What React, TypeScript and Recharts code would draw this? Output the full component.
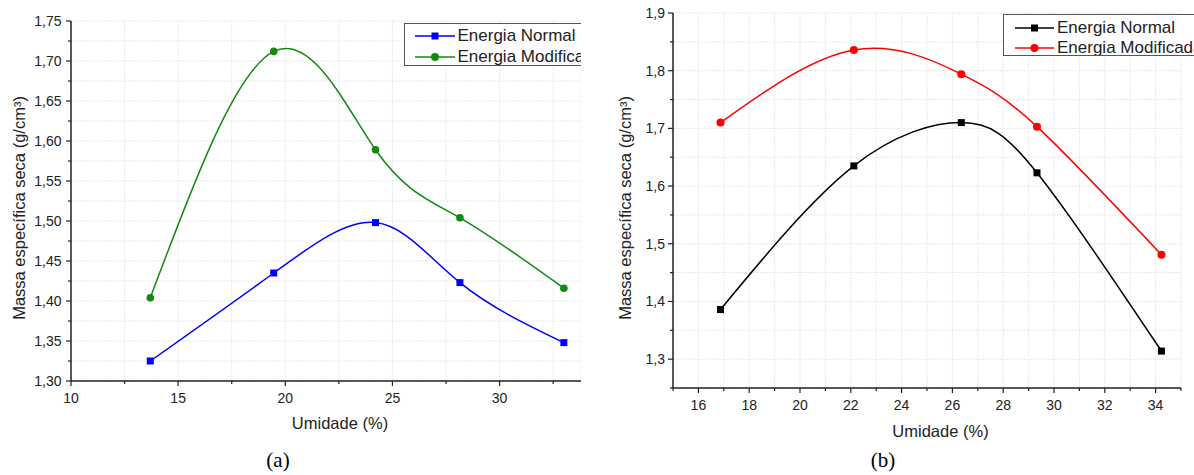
import React from 'react';
import { LineChart, Line, XAxis, YAxis, CartesianGrid, Label } from 'recharts';

// ---- data ----
const umidadeA = [13.7, 19.46, 24.21, 28.15, 33.0];
const normalA = [1.325, 1.435, 1.498, 1.423, 1.348];
const modificadaA = [1.404, 1.712, 1.589, 1.504, 1.416];

const umidadeB = [16.87, 22.12, 26.35, 29.33, 34.23];
const normalB = [1.386, 1.635, 1.71, 1.623, 1.314];
const modificadaB = [1.71, 1.836, 1.794, 1.703, 1.481];

const seriesNames = ['Energia Normal', 'Energia Modificada'];
const xTitle = 'Umidade (%)';
const yTitle = 'Massa específica seca (g/cm³)';
const panelLabels = ['(a)', '(b)'];

// ---- ticks ----
const xMajorA = [10, 15, 20, 25, 30];
const xMinorA = [12.5, 17.5, 22.5, 27.5, 32.5];
const yMajorA = [1.3, 1.35, 1.4, 1.45, 1.5, 1.55, 1.6, 1.65, 1.7, 1.75];
const yMinorA = [1.325, 1.375, 1.425, 1.475, 1.525, 1.575, 1.625, 1.675, 1.725];
const xDomainA = [10, 33.8];
const yDomainA = [1.3, 1.75];

const xMajorB = [16, 18, 20, 22, 24, 26, 28, 30, 32, 34];
const xMinorB = [15, 17, 19, 21, 23, 25, 27, 29, 31, 33, 35];
const yMajorB = [1.3, 1.4, 1.5, 1.6, 1.7, 1.8, 1.9];
const yMinorB = [1.25, 1.35, 1.45, 1.55, 1.65, 1.75, 1.85];
const xDomainB = [15, 35];
const yDomainB = [1.25, 1.9];

const rowsA = umidadeA.map((u, i) => ({ u, normal: normalA[i], mod: modificadaA[i] }));
const rowsB = umidadeB.map((u, i) => ({ u, normal: normalB[i], mod: modificadaB[i] }));

const FONT = "'Liberation Sans', Arial, sans-serif";
const AXIS = '#222';
const TEXT = '#222';
const GREEN = '#128a12';
const BLUE = '#0000ff';
const RED = '#ff0000';
const BLACK = '#000000';

const sortNum = (a: number[]) => [...a].sort((p, q) => p - q);
const isIn = (arr: number[], v: number) => arr.some((m) => Math.abs(m - v) < 1e-9);
const fmt = (v: number, d: number) => v.toFixed(d).replace('.', ',');

function makeXTick(majors: number[], decimals: number) {
  return (props: any) => {
    const { x, y, payload, index } = props;
    const v = payload.value;
    const major = isIn(majors, v);
    return (
      <g key={`xt-${index}`}>
        <line x1={x} x2={x} y1={y} y2={y + (major ? 5 : 3)} stroke={AXIS} strokeWidth={1.2} />
        {major && (
          <text x={x} y={y + 22} textAnchor="middle" fontSize={14} fontFamily={FONT} fill={TEXT}>
            {fmt(v, decimals)}
          </text>
        )}
      </g>
    );
  };
}

function makeYTick(majors: number[], decimals: number, gap: number) {
  return (props: any) => {
    const { x, y, payload, index } = props;
    const v = payload.value;
    const major = isIn(majors, v);
    return (
      <g key={`yt-${index}`}>
        <line x1={x} x2={x - (major ? 5 : 3)} y1={y} y2={y} stroke={AXIS} strokeWidth={1.2} />
        {major && (
          <text x={x - gap} y={y + 5} textAnchor="end" fontSize={14} fontFamily={FONT} fill={TEXT}>
            {fmt(v, decimals)}
          </text>
        )}
      </g>
    );
  };
}

const squareDot = (color: string, size: number) => (p: any) => (
  <rect key={`s-${p.index}`} x={p.cx - size / 2} y={p.cy - size / 2} width={size} height={size} fill={color} />
);
const circleDot = (color: string, r: number) => (p: any) => (
  <circle key={`c-${p.index}`} cx={p.cx} cy={p.cy} r={r} fill={color} />
);

const xTitleContent = (dx: number, dy: number) => (props: any) => {
  const vb = props.viewBox;
  return (
    <text x={vb.x + vb.width / 2 + dx} y={vb.y + dy} textAnchor="middle" dominantBaseline="central" fontSize={16.5} fontFamily={FONT} fill={TEXT}>
      {xTitle}
    </text>
  );
};

const yTitleContent = (cxOff: number, dy: number) => (props: any) => {
  const vb = props.viewBox;
  const cx = vb.x + cxOff;
  const cy = vb.y + vb.height / 2 + dy;
  return (
    <text x={cx} y={cy} transform={`rotate(-90 ${cx} ${cy})`} textAnchor="middle" dominantBaseline="central" fontSize={16.5} fontFamily={FONT} fill={TEXT}>
      {yTitle}
    </text>
  );
};

type LegendItem = { name: string; color: string; shape: 'square' | 'circle' };

function LegendBox(props: { left: number; top: number; width: number; height: number; rowTop: number; rowGap: number; padLeft: number; lineW: number; items: LegendItem[] }) {
  const { left, top, width, height, rowTop, rowGap, padLeft, lineW, items } = props;
  return (
    <div style={{ position: 'absolute', left, top, width, height, border: '1px solid #555', borderRight: 'none', boxSizing: 'border-box', overflow: 'hidden', background: '#fff' }}>
      {items.map((it, i) => (
        <div key={i} style={{ position: 'absolute', left: padLeft, top: rowTop + i * rowGap, height: 20, display: 'flex', alignItems: 'center', whiteSpace: 'nowrap' }}>
          <svg width={lineW} height={20} style={{ display: 'block' }}>
            <line x1={0} x2={lineW} y1={10} y2={10} stroke={it.color} strokeWidth={1.6} />
            {it.shape === 'square' ? (
              <rect x={lineW / 2 - 3.5} y={6.5} width={7} height={7} fill={it.color} />
            ) : (
              <circle cx={lineW / 2} cy={10} r={4} fill={it.color} />
            )}
          </svg>
          <span style={{ marginLeft: 3, fontFamily: FONT, fontSize: 17, color: TEXT, lineHeight: '20px' }}>{it.name}</span>
        </div>
      ))}
    </div>
  );
}

export default function App() {
  return (
    <div style={{ position: 'absolute', left: 0, top: 0, width: 1194, height: 475, background: '#fff', overflow: 'hidden' }}>
      {/* Panel (a) */}
      <div style={{ position: 'absolute', left: 0, top: 0, width: 581, height: 475, overflow: 'hidden' }}>
        <LineChart width={600} height={475} data={rowsA} margin={{ top: 21, right: 19, bottom: 64, left: 0 }}>
          <CartesianGrid stroke="#e8e8e8" strokeDasharray="2 1" />
          <XAxis
            dataKey="u"
            type="number"
            domain={xDomainA}
            ticks={sortNum([...xMajorA, ...xMinorA])}
            interval={0}
            allowDataOverflow
            tickSize={0}
            tickMargin={0}
            tickLine={false}
            tick={makeXTick(xMajorA, 0)}
            axisLine={{ stroke: AXIS, strokeWidth: 1.5 }}
            height={30}
          >
            <Label content={xTitleContent(14, 42)} />
          </XAxis>
          <YAxis
            type="number"
            domain={yDomainA}
            ticks={sortNum([...yMajorA, ...yMinorA])}
            interval={0}
            allowDataOverflow
            tickSize={0}
            tickMargin={0}
            tickLine={false}
            tick={makeYTick(yMajorA, 2, 9.5)}
            axisLine={{ stroke: AXIS, strokeWidth: 1.5 }}
            width={71}
          >
            <Label content={yTitleContent(19, 7)} />
          </YAxis>
          <Line type="natural" dataKey="normal" name={seriesNames[0]} stroke={BLUE} strokeWidth={1.5} dot={squareDot(BLUE, 7)} isAnimationActive={false} />
          <Line type="natural" dataKey="mod" name={seriesNames[1]} stroke={GREEN} strokeWidth={1.5} dot={circleDot(GREEN, 3.8)} isAnimationActive={false} />
        </LineChart>
        <LegendBox
          left={403.5}
          top={22.5}
          width={178}
          height={43}
          rowTop={2.7}
          rowGap={21}
          padLeft={10}
          lineW={40}
          items={[
            { name: seriesNames[0], color: BLUE, shape: 'square' },
            { name: seriesNames[1], color: GREEN, shape: 'circle' },
          ]}
        />
      </div>

      {/* Panel (b) */}
      <div style={{ position: 'absolute', left: 590, top: 0, width: 604, height: 475, overflow: 'hidden' }}>
        <LineChart width={604} height={475} data={rowsB} margin={{ top: 13, right: 13, bottom: 57, left: 0 }}>
          <CartesianGrid stroke="#e8e8e8" strokeDasharray="2 1" />
          <XAxis
            dataKey="u"
            type="number"
            domain={xDomainB}
            ticks={sortNum([...xMajorB, ...xMinorB])}
            interval={0}
            allowDataOverflow
            tickSize={0}
            tickMargin={0}
            tickLine={false}
            tick={makeXTick(xMajorB, 0)}
            axisLine={{ stroke: AXIS, strokeWidth: 1.5 }}
            height={30}
          >
            <Label content={xTitleContent(13.5, 43)} />
          </XAxis>
          <YAxis
            type="number"
            domain={yDomainB}
            ticks={sortNum([...yMajorB, ...yMinorB])}
            interval={0}
            allowDataOverflow
            tickSize={0}
            tickMargin={0}
            tickLine={false}
            tick={makeYTick(yMajorB, 1, 8)}
            axisLine={{ stroke: AXIS, strokeWidth: 1.5 }}
            width={83}
          >
            <Label content={yTitleContent(35, 7.5)} />
          </YAxis>
          <Line type="natural" dataKey="normal" name={seriesNames[0]} stroke={BLACK} strokeWidth={1.5} dot={squareDot(BLACK, 7)} isAnimationActive={false} />
          <Line type="natural" dataKey="mod" name={seriesNames[1]} stroke={RED} strokeWidth={1.5} dot={circleDot(RED, 4)} isAnimationActive={false} />
        </LineChart>
        <LegendBox
          left={413}
          top={14}
          width={191}
          height={42}
          rowTop={2.7}
          rowGap={20}
          padLeft={11}
          lineW={39}
          items={[
            { name: seriesNames[0], color: BLACK, shape: 'square' },
            { name: seriesNames[1], color: RED, shape: 'circle' },
          ]}
        />
      </div>

      {/* panel captions */}
      <div style={{ position: 'absolute', left: 278, top: 460, transform: 'translate(-50%, -50%)', fontFamily: "'Liberation Serif', 'Times New Roman', serif", fontSize: 21, color: '#000', whiteSpace: 'nowrap' }}>
        {panelLabels[0]}
      </div>
      <div style={{ position: 'absolute', left: 883, top: 460, transform: 'translate(-50%, -50%)', fontFamily: "'Liberation Serif', 'Times New Roman', serif", fontSize: 21, color: '#000', whiteSpace: 'nowrap' }}>
        {panelLabels[1]}
      </div>
    </div>
  );
}
